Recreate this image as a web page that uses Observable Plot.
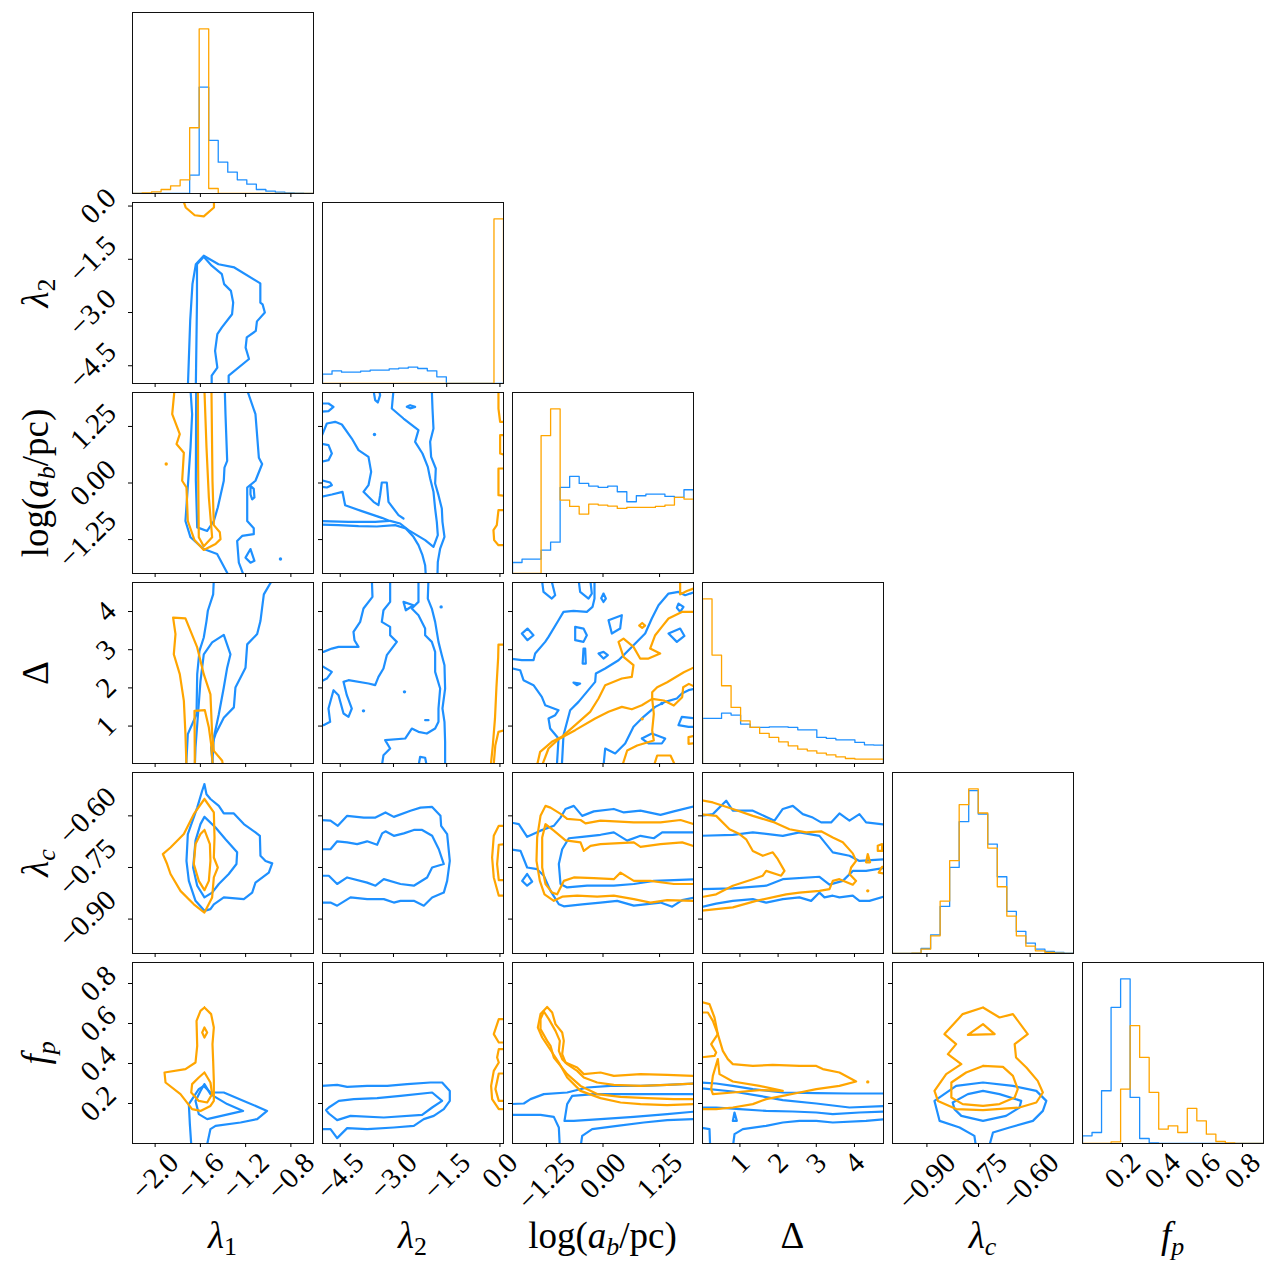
<!DOCTYPE html>
<html><head><meta charset="utf-8">
<script src="https://cdn.jsdelivr.net/npm/d3@7"></script>
<script src="https://cdn.jsdelivr.net/npm/@observablehq/plot@0.6"></script>
<style>
html,body{margin:0;padding:0;background:#fff;}
#fig{position:relative;width:1271px;height:1262px;font-family:'Liberation Serif',serif;}
.panel{position:absolute;}
.panel svg{overflow:visible;background:transparent;max-width:none;}
.xt,.yt{position:absolute;font-size:37px;white-space:nowrap;line-height:1;color:#000;}
.xt{transform:translate(-50%,-50%);}
.yt{transform:translate(-50%,-50%) rotate(-90deg);}
.xt sub,.yt sub{font-size:0.7em;vertical-align:-0.28em;line-height:0;}
</style></head><body><div id="fig"></div>
<script>
// ---------------- tick values and labels ----------------
const tickLambda1 = [-2.0, -1.6, -1.2, -0.8];
const tickLabelLambda1 = ["−2.0", "−1.6", "−1.2", "−0.8"];
const tickLambda2 = [-4.5, -3.0, -1.5, 0.0];
const tickLabelLambda2 = ["−4.5", "−3.0", "−1.5", "0.0"];
const tickLogab = [-1.25, 0.0, 1.25];
const tickLabelLogab = ["−1.25", "0.00", "1.25"];
const tickDelta = [1, 2, 3, 4];
const tickLabelDelta = ["1", "2", "3", "4"];
const tickLambdac = [-0.90, -0.75, -0.60];
const tickLabelLambdac = ["−0.90", "−0.75", "−0.60"];
const tickFp = [0.2, 0.4, 0.6, 0.8];
const tickLabelFp = ["0.2", "0.4", "0.6", "0.8"];

// axis ranges of each parameter
const rangeLambda1 = [-2.2, -0.6];
const rangeLambda2 = [-5.0, 0.1];
const rangeLogab = [-2.0, 2.0];
const rangeDelta = [0.02, 4.76];
const rangeLambdac = [-1.0, -0.474];
const rangeFp = [0.0, 0.905];

// ---------------- 1D histograms (19 bins across each range) ----------------
const histLambda1Blue = [0,0,0,0,0,0,55,319,159,94,64,41,28,12,7,4,2,1,0];
const histLambda1Orange = [0,2,5,12,23,41,197,493,15,0,0,0,0,0,0,0,0,0,0];
const histLambda2Blue = [28,38,34,34,37,40,40,44,46,49,45,38,20,0,0,0,0,0,0];
const histLambda2Orange = [0,0,0,0,0,0,0,0,0,0,0,0,0,0,0,0,0,0,493];
const histLogabBlue = [33,43,43,70,94,258,291,270,262,258,262,245,215,233,238,238,231,228,251];
const histLogabOrange = [0,0,0,413,493,220,201,178,208,205,202,195,198,198,198,201,205,228,223];
const histDeltaBlue = [135,135,151,145,118,108,108,110,110,108,101,101,78,75,71,71,63,56,55];
const histDeltaOrange = [493,325,233,168,128,108,90,78,65,53,43,38,31,26,20,15,13,13,13];
const histLambdacBlue = [0,0,1,15,56,141,258,395,488,418,328,230,126,66,31,13,6,3,1];
const histLambdacOrange = [0,0,1,13,53,157,278,446,493,421,316,200,112,53,22,8,3,1,0];
const histFpBlue = [23,33,158,408,493,138,15,2,0,0,0,0,0,0,0,0,0,0,0];
const histFpOrange = [0,0,0,5,163,353,258,153,43,53,33,105,68,28,6,2,0,0,0];

// ---------------- 2D contour lines (x, y in data units); one-point entries are tiny islands ----------------
// row λ2, column λ1
const c10Blue = [
 [[-1.71,-5.05],[-1.69,-3.23],[-1.67,-2.20],[-1.64,-1.64],[-1.57,-1.40],[-1.44,-1.64],[-1.30,-1.73],[-1.07,-2.18],[-1.07,-2.72],[-1.05,-2.77],[-1.03,-3.00],[-1.10,-3.25],[-1.11,-3.52],[-1.19,-3.70],[-1.20,-3.99],[-1.17,-4.31],[-1.35,-4.78],[-1.35,-5.05]],
 [[-1.64,-5.05],[-1.63,-2.67],[-1.63,-1.64],[-1.57,-1.43],[-1.50,-1.68],[-1.41,-1.92],[-1.39,-2.20],[-1.33,-2.39],[-1.31,-2.72],[-1.32,-3.05],[-1.41,-3.42],[-1.45,-3.61],[-1.47,-4.08],[-1.45,-4.55],[-1.50,-4.78],[-1.50,-5.05]]
];
const c10Orange = [
 [[-1.75,0.15],[-1.73,-0.04],[-1.65,-0.26],[-1.57,-0.29],[-1.48,-0.04],[-1.48,0.15]]
];
// row log(ab), column λ1
const c20Blue = [
 [[-1.687,2.05],[-1.673,1.52],[-1.687,0.79],[-1.732,-0.84],[-1.687,-1.20],[-1.57,-1.46],[-1.452,-1.57],[-1.349,-2.05]],
 [[-1.186,2.05],[-1.113,1.52],[-1.083,0.56],[-1.054,0.42],[-1.113,0.05],[-1.186,-0.10],[-1.186,-0.84],[-1.128,-1.00],[-1.128,-1.13],[-1.231,-1.17],[-1.275,-1.28],[-1.260,-1.76],[-1.216,-2.05]],
 [[-1.637,2.05],[-1.640,0.05],[-1.628,-0.98],[-1.540,-1.06],[-1.481,-0.84],[-1.446,-0.54],[-1.393,0.05],[-1.387,0.34],[-1.363,0.49],[-1.378,1.52],[-1.384,2.05]],
 [[-1.157,-0.06],[-1.128,-0.13],[-1.122,-0.32],[-1.142,-0.36],[-1.157,-0.25],[-1.157,-0.06]],
 [[-1.201,-1.65],[-1.157,-1.46],[-1.122,-1.72],[-1.157,-1.76],[-1.201,-1.65]],
 [[-0.892,-1.68]]
];
const c20Orange = [
 [[-1.829,2.05],[-1.849,1.52],[-1.782,1.08],[-1.811,0.86],[-1.746,0.67],[-1.761,0.05],[-1.723,-0.10],[-1.711,-0.84],[-1.652,-1.26],[-1.570,-1.48],[-1.466,-1.35],[-1.422,-1.24],[-1.428,-1.09],[-1.481,-0.93],[-1.493,0.05],[-1.502,2.05]],
 [[-1.622,2.05],[-1.620,0.42],[-1.614,-1.20],[-1.570,-1.40],[-1.496,-1.20],[-1.525,-0.32],[-1.546,0.79],[-1.564,2.05]],
 [[-1.902,0.42]]
];
// row Δ, column λ1
const c30Blue = [
 [[-1.726,-0.05],[-1.711,0.79],[-1.634,1.31],[-1.628,2.36],[-1.608,2.97],[-1.570,3.32],[-1.546,3.75],[-1.534,4.02],[-1.487,4.45],[-1.481,4.85]],
 [[-0.960,4.85],[-1.039,4.45],[-1.054,4.10],[-1.069,3.75],[-1.098,3.41],[-1.186,3.14],[-1.201,2.53],[-1.290,2.01],[-1.304,1.49],[-1.393,1.22],[-1.466,0.79],[-1.505,0.44],[-1.490,-0.05]],
 [[-1.649,-0.05],[-1.643,0.44],[-1.599,2.18],[-1.570,2.88],[-1.496,3.19],[-1.393,3.39],[-1.334,2.88],[-1.363,2.53],[-1.393,2.01],[-1.437,1.31],[-1.481,0.70],[-1.496,-0.05]]
];
const c30Orange = [
 [[-1.723,-0.05],[-1.732,0.79],[-1.746,1.66],[-1.782,2.36],[-1.835,2.88],[-1.820,3.41],[-1.841,3.84],[-1.732,3.82],[-1.628,3.06],[-1.570,2.36],[-1.511,1.83],[-1.496,0.79],[-1.481,0.35],[-1.407,0.09],[-1.399,-0.05]],
 [[-1.649,-0.05],[-1.652,1.40],[-1.561,1.42],[-1.525,0.96],[-1.505,0.53],[-1.490,-0.05]]
];
// row λc, column λ1
const c40Blue = [
 [[-1.564,-0.508],[-1.546,-0.537],[-1.511,-0.551],[-1.437,-0.571],[-1.393,-0.593],[-1.304,-0.593],[-1.216,-0.624],[-1.113,-0.648],[-1.074,-0.658],[-1.069,-0.716],[-1.024,-0.731],[-0.965,-0.738],[-0.995,-0.765],[-1.113,-0.794],[-1.142,-0.823],[-1.216,-0.842],[-1.393,-0.837],[-1.481,-0.857],[-1.511,-0.871],[-1.564,-0.876],[-1.643,-0.847],[-1.702,-0.789],[-1.723,-0.731],[-1.711,-0.653],[-1.628,-0.576],[-1.584,-0.527],[-1.564,-0.508]],
 [[-1.564,-0.603],[-1.466,-0.634],[-1.378,-0.668],[-1.275,-0.706],[-1.281,-0.740],[-1.349,-0.769],[-1.437,-0.798],[-1.496,-0.823],[-1.564,-0.837],[-1.628,-0.803],[-1.664,-0.750],[-1.643,-0.672],[-1.599,-0.624],[-1.564,-0.603]]
];
const c40Orange = [
 [[-1.564,-0.551],[-1.481,-0.590],[-1.475,-0.663],[-1.481,-0.721],[-1.446,-0.750],[-1.481,-0.779],[-1.496,-0.837],[-1.564,-0.881],[-1.658,-0.857],[-1.776,-0.818],[-1.864,-0.769],[-1.894,-0.740],[-1.932,-0.711],[-1.864,-0.692],[-1.746,-0.653],[-1.658,-0.595],[-1.564,-0.551]],
 [[-1.564,-0.641],[-1.516,-0.682],[-1.511,-0.731],[-1.525,-0.789],[-1.564,-0.816],[-1.614,-0.789],[-1.658,-0.740],[-1.643,-0.682],[-1.599,-0.653],[-1.564,-0.641]]
];
// row fp, column λ1
const c50Blue = [
 [[-1.679,-0.02],[-1.693,0.097],[-1.702,0.197],[-1.614,0.272],[-1.570,0.288],[-1.511,0.255],[-1.393,0.255],[-1.216,0.213],[-1.010,0.163],[-1.098,0.122],[-1.245,0.105],[-1.466,0.088],[-1.511,0.072],[-1.546,-0.02]],
 [[-1.564,0.297],[-1.511,0.247],[-1.363,0.197],[-1.222,0.163],[-1.540,0.122],[-1.614,0.147],[-1.643,0.213],[-1.599,0.263],[-1.564,0.297]]
];
const c50Orange = [
 [[-1.564,0.68],[-1.505,0.647],[-1.481,0.58],[-1.493,0.497],[-1.487,0.413],[-1.481,0.313],[-1.481,0.213],[-1.511,0.188],[-1.599,0.163],[-1.673,0.172],[-1.776,0.247],[-1.908,0.305],[-1.917,0.355],[-1.732,0.372],[-1.643,0.405],[-1.628,0.488],[-1.634,0.613],[-1.599,0.663],[-1.564,0.68]],
 [[-1.584,0.555],[-1.564,0.58],[-1.540,0.555],[-1.564,0.53],[-1.584,0.555]],
 [[-1.564,0.355],[-1.511,0.305],[-1.496,0.247],[-1.540,0.205],[-1.614,0.213],[-1.681,0.255],[-1.673,0.297],[-1.614,0.33],[-1.564,0.355]]
];
// row log(ab), column λ2
const c21Blue = [
 [[-5.05,-0.917],[-4.549,-0.932],[-3.986,-0.954],[-3.469,-0.961],[-2.953,-0.932],[-2.653,-1.006],[-2.437,-1.190],[-2.296,-1.374],[-2.183,-1.595],[-2.108,-1.816],[-2.089,-2.05]],
 [[-1.920,2.05],[-1.901,1.646],[-1.873,1.204],[-1.967,0.910],[-1.939,0.578],[-1.808,0.320],[-1.826,-0.011],[-1.732,-0.269],[-1.638,-0.564],[-1.620,-0.858],[-1.563,-1.190],[-1.685,-1.448],[-1.751,-1.742],[-1.761,-2.05]],
 [[-5.05,-0.843],[-4.268,-0.858],[-3.516,-0.858],[-3.122,-0.836],[-3.329,-0.770],[-3.892,-0.622],[-4.362,-0.490],[-4.437,-0.195],[-4.737,-0.254],[-5.05,-0.306]],
 [[-3.0,2.05],[-3.047,1.646],[-2.718,1.425],[-2.296,1.168],[-2.390,0.910],[-2.183,0.652],[-2.033,0.357],[-1.967,0.099],[-1.873,-0.195],[-1.826,-0.564],[-1.779,-0.858],[-1.751,-1.153],[-1.873,-1.411],[-2.108,-1.263],[-2.343,-1.153],[-2.577,-1.042],[-2.812,-0.895],[-3.094,-0.836]],
 [[-5.05,0.983],[-4.878,1.315],[-4.643,1.352],[-4.455,1.293],[-4.174,0.983],[-3.986,0.726],[-3.704,0.578],[-3.629,0.247],[-3.704,-0.048],[-3.845,-0.195],[-3.563,-0.416],[-3.423,-0.490],[-3.376,-0.269],[-3.329,0.011],[-3.188,0.011],[-3.141,-0.416],[-2.859,-0.711],[-2.718,-0.785]],
 [[-5.05,1.757],[-4.831,1.757],[-4.690,1.683],[-4.831,1.587],[-5.05,1.573]],
 [[-5.05,0.873],[-4.831,0.836],[-4.737,0.652],[-4.831,0.505],[-5.05,0.468]],
 [[-5.05,0.063],[-4.784,0.011],[-4.737,-0.048],[-4.878,-0.099],[-5.05,-0.085]],
 [[-2.624,1.683],[-2.531,1.72],[-2.390,1.683],[-2.531,1.65],[-2.624,1.683]],
 [[-3.563,2.05],[-3.516,1.831],[-3.441,1.779],[-3.376,1.941],[-3.404,2.05]],
 [[-3.535,1.072]]
];
const c21Orange = [
 [[0.15,1.352],[0.005,1.352],[-0.042,1.646],[-0.042,2.05]],
 [[0.15,1.057],[0.005,1.057],[0.005,0.652],[0.15,0.615]],
 [[0.15,0.320],[-0.042,0.320],[-0.042,-0.269],[0.15,-0.284]],
 [[0.15,-0.600],[-0.042,-0.600],[-0.089,-0.932],[-0.183,-1.042],[-0.164,-1.263],[-0.042,-1.374],[0.15,-1.374]]
];
// row Δ, column λ2
const c31Blue = [
 [[-3.610,4.85],[-3.592,4.383],[-3.845,4.078],[-3.939,3.729],[-4.127,3.467],[-4.099,3.249],[-3.986,3.074],[-4.549,3.074],[-4.737,3.03],[-4.972,2.943],[-5.05,2.93]],
 [[-3.094,4.85],[-3.094,4.252],[-3.282,4.034],[-3.329,3.729],[-3.094,3.598],[-3.094,3.379],[-2.906,3.205],[-3.188,2.856],[-3.282,2.507],[-3.423,2.289],[-3.516,2.071],[-3.704,2.114],[-4.268,2.202],[-4.408,2.158],[-4.315,1.809],[-4.174,1.46],[-4.268,1.242],[-4.408,1.329],[-4.549,1.809],[-4.690,1.94],[-4.831,1.46],[-4.784,1.111],[-4.972,1.023],[-5.05,1.02]],
 [[-5.05,2.594],[-4.737,2.42],[-4.878,2.245],[-5.05,2.16]],
 [[-2.296,4.85],[-2.296,4.252],[-2.484,4.078],[-2.296,3.903],[-2.108,3.554],[-2.108,3.379],[-1.920,3.205],[-1.826,2.943],[-1.826,2.42],[-1.685,1.983],[-1.732,1.46],[-1.732,1.111],[-1.826,0.936],[-2.061,0.805],[-2.296,0.849],[-2.484,0.936],[-2.671,0.674],[-3.235,0.631],[-3.094,0.413],[-3.282,0.238],[-3.329,-0.05]],
 [[-2.014,4.85],[-2.033,4.339],[-1.920,4.078],[-1.826,3.729],[-1.732,3.205],[-1.638,2.856],[-1.563,2.594],[-1.545,1.983],[-1.620,1.46],[-1.563,1.111],[-1.545,0.587],[-1.545,-0.05]],
 [[-2.718,4.252],[-2.437,4.165],[-2.653,4.034],[-2.718,4.252]],
 [[-2.108,1.154],[-2.014,1.154]],
 [[-2.296,-0.05],[-2.249,0.195],[-2.108,0.17],[-2.061,-0.05]],
 [[-1.657,4.121]],
 [[-2.690,1.896]],
 [[-3.845,1.399]]
];
const c31Orange = [
 [[0.15,3.135],[-0.042,3.135],[-0.05,2.8],[-0.10,2.0],[-0.14,1.2],[-0.20,0.5],[-0.26,-0.05]],
 [[0.15,0.892],[-0.042,0.85],[-0.13,0.5],[-0.18,-0.05]]
];
// row Δ, column log(ab)
const c32Blue = [
 [[-2.05,2.769],[-1.794,2.725],[-1.536,2.725],[-1.499,2.90],[-1.278,3.205],[-1.204,3.336],[-0.983,3.772],[-0.873,3.99],[-0.652,4.017],[-0.357,3.99],[-0.232,4.121],[-0.188,4.339],[-0.188,4.85]],
 [[-2.05,2.524],[-1.831,2.463],[-1.757,2.202],[-1.536,2.071],[-1.352,1.765],[-1.278,1.547],[-0.983,1.416],[-1.057,1.285],[-1.204,1.198],[-1.168,0.936],[-0.983,0.674],[-1.020,-0.05]],
 [[-0.910,-0.05],[-0.873,0.762],[-0.726,1.416],[-0.541,1.634],[-0.357,1.896],[-0.173,2.158],[-0.158,2.376],[0.048,2.507],[0.343,2.725],[0.564,2.987],[0.932,3.423],[1.079,3.816],[1.227,4.165],[1.448,4.47],[1.668,4.514],[1.816,4.427],[1.926,4.47],[2.05,4.514]],
 [[0.011,-0.05],[0.048,0.413],[0.269,0.282],[0.490,0.544],[0.674,0.98],[0.895,1.242],[1.153,1.503],[1.374,1.634],[1.632,1.722],[1.742,1.852],[1.890,1.94],[2.05,1.983]],
 [[2.05,1.198],[1.742,1.242],[1.668,1.023],[1.890,0.98],[2.05,0.98]],
 [[0.858,0.674],[1.079,0.805],[1.374,0.674],[1.300,0.544],[1.006,0.544],[0.858,0.674]],
 [[-1.794,3.423],[-1.669,3.554],[-1.536,3.379],[-1.669,3.249],[-1.794,3.423]],
 [[-0.615,3.598],[-0.431,3.554],[-0.357,3.379],[-0.431,3.205],[-0.615,3.249],[-0.615,3.598]],
 [[-0.431,3.03],[-0.394,3.03],[-0.38,2.638],[-0.45,2.638],[-0.431,3.03]],
 [[0.011,4.47],[0.063,4.339],[0.011,4.25],[-0.04,4.35],[0.011,4.47]],
 [[-0.099,2.90],[0.011,2.943],[0.107,2.856],[0.011,2.769],[-0.099,2.90]],
 [[-0.652,2.14],[-0.505,2.114],[-0.578,2.071],[-0.652,2.14]],
 [[0.122,3.772],[0.416,3.903],[0.379,3.554],[0.195,3.423],[0.122,3.772]],
 [[1.448,3.423],[1.705,3.554],[1.80,3.36],[1.632,3.205],[1.448,3.423]],
 [[1.668,4.208],[1.779,4.121],[1.705,3.99],[1.632,4.1],[1.668,4.208]],
 [[-1.352,4.85],[-1.315,4.514],[-1.131,4.339],[-1.057,4.427],[-1.146,4.85]],
 [[-0.541,4.85],[-0.505,4.514],[-0.320,4.339],[-0.247,4.47],[-0.283,4.85]],
 [[1.30,1.591]]
];
const c32Orange = [
 [[-1.462,-0.05],[-1.389,0.325],[-1.131,0.587],[-0.910,0.718],[-0.615,1.023],[-0.284,1.373],[-0.099,1.722],[0.048,2.071],[0.416,2.245],[0.637,2.289],[0.674,2.594],[0.453,2.812],[0.343,3.205],[0.453,3.292],[0.674,3.074],[0.821,2.769],[1.006,2.769],[1.263,2.90],[1.042,3.03],[1.153,3.379],[1.300,3.598],[1.448,3.816],[1.742,3.99],[2.05,3.99]],
 [[-1.352,-0.05],[-1.204,0.413],[-0.983,0.657],[-0.615,0.893],[-0.173,1.198],[0.122,1.373],[0.416,1.503],[0.637,1.44],[0.858,1.547],[1.087,1.713],[1.344,1.669],[1.565,1.538],[1.750,1.756],[1.772,2.018],[1.897,2.105],[2.05,2.018]],
 [[2.05,2.559],[1.786,2.411],[1.418,2.149],[1.197,2.018],[1.087,1.887],[1.087,1.713],[1.123,1.32],[1.087,0.884],[1.123,0.622],[0.755,0.491],[0.534,0.36],[0.424,-0.05]],
 [[1.123,-0.05],[1.197,0.229],[1.492,0.229],[1.602,-0.05]],
 [[2.05,0.753],[1.890,0.709],[1.890,0.535],[2.05,0.552]],
 [[1.705,4.85],[1.705,4.449],[1.853,4.537],[2.05,4.624]],
 [[0.80,3.633],[0.866,3.70],[0.93,3.633],[0.866,3.57],[0.80,3.633]],
 [[0.866,1.189]]
];
// row λc, column λ2
const c41Blue = [
 [[-5.05,-0.612],[-4.775,-0.614],[-4.568,-0.629],[-4.305,-0.600],[-3.836,-0.605],[-3.507,-0.605],[-3.225,-0.590],[-2.991,-0.603],[-2.521,-0.585],[-2.239,-0.576],[-1.911,-0.574],[-1.676,-0.600],[-1.657,-0.629],[-1.488,-0.653],[-1.413,-0.731],[-1.488,-0.789],[-1.582,-0.823],[-1.911,-0.837],[-2.146,-0.861],[-2.427,-0.847],[-2.803,-0.847],[-2.991,-0.852],[-3.272,-0.842],[-3.742,-0.842],[-4.211,-0.837],[-4.587,-0.861],[-4.775,-0.852],[-5.05,-0.852]],
 [[-5.05,-0.697],[-4.775,-0.697],[-4.587,-0.674],[-4.305,-0.677],[-4.023,-0.682],[-3.742,-0.674],[-3.460,-0.684],[-3.319,-0.651],[-3.225,-0.645],[-2.991,-0.658],[-2.709,-0.651],[-2.427,-0.641],[-2.192,-0.641],[-1.911,-0.658],[-1.723,-0.697],[-1.582,-0.740],[-1.911,-0.75],[-2.052,-0.779],[-2.427,-0.803],[-2.803,-0.798],[-3.272,-0.784],[-3.507,-0.803],[-3.742,-0.794],[-4.305,-0.779],[-4.587,-0.798],[-4.822,-0.774],[-5.05,-0.774]]
];
const c41Orange = [
 [[0.15,-0.629],[-0.033,-0.629],[-0.174,-0.658],[-0.221,-0.721],[-0.174,-0.779],[-0.033,-0.832],[0.15,-0.832]],
 [[0.15,-0.682],[-0.033,-0.684],[-0.080,-0.740],[-0.033,-0.787],[0.15,-0.787]]
];
// row λc, column log(ab)
const c42Blue = [
 [[-2.05,-0.619],[-1.860,-0.624],[-1.676,-0.661],[-1.381,-0.643],[-1.087,-0.629],[-0.939,-0.605],[-0.829,-0.580],[-0.645,-0.571],[-0.460,-0.600],[-0.203,-0.587],[0.239,-0.580],[0.460,-0.590],[0.829,-0.585],[1.271,-0.597],[1.565,-0.587],[2.05,-0.571]],
 [[-2.05,-0.697],[-1.823,-0.702],[-1.676,-0.75],[-1.455,-0.755],[-1.308,-0.774],[-1.160,-0.818],[-0.976,-0.857],[-0.866,-0.863],[-0.460,-0.857],[-0.055,-0.852],[0.313,-0.847],[0.681,-0.861],[1.271,-0.852],[1.529,-0.864],[1.750,-0.845],[2.05,-0.837]],
 [[2.05,-0.648],[1.713,-0.648],[1.308,-0.648],[1.123,-0.665],[0.829,-0.658],[0.534,-0.672],[0.239,-0.648],[-0.055,-0.655],[-0.460,-0.661],[-0.755,-0.665],[-0.902,-0.697],[-0.976,-0.740],[-0.939,-0.798],[-0.792,-0.808],[-0.350,-0.803],[0.239,-0.803],[0.681,-0.798],[1.123,-0.789],[1.565,-0.787],[2.05,-0.784]],
 [[-1.786,-0.789],[-1.676,-0.769],[-1.565,-0.791],[-1.676,-0.803],[-1.786,-0.789]]
];
const c42Orange = [
 [[2.05,-0.626],[1.713,-0.612],[1.271,-0.619],[0.681,-0.619],[-0.055,-0.614],[-0.387,-0.622],[-0.497,-0.612],[-0.792,-0.609],[-0.902,-0.597],[-1.160,-0.576],[-1.271,-0.571],[-1.381,-0.600],[-1.455,-0.663],[-1.470,-0.731],[-1.396,-0.789],[-1.293,-0.828],[-1.087,-0.847],[-0.902,-0.835],[-0.571,-0.832],[-0.129,-0.835],[0.239,-0.832],[0.681,-0.842],[1.050,-0.852],[1.418,-0.845],[2.05,-0.847]],
 [[2.05,-0.690],[1.750,-0.677],[1.271,-0.682],[0.829,-0.690],[0.681,-0.677],[-0.055,-0.682],[-0.276,-0.687],[-0.424,-0.702],[-0.497,-0.677],[-0.829,-0.671],[-1.087,-0.643],[-1.271,-0.624],[-1.344,-0.663],[-1.344,-0.75],[-1.271,-0.798],[-1.123,-0.823],[-1.013,-0.828],[-0.866,-0.789],[-0.645,-0.779],[-0.203,-0.781],[0.239,-0.784],[0.387,-0.765],[0.681,-0.789],[1.050,-0.789],[1.565,-0.798],[2.05,-0.798]]
];
// row λc, column Δ
const c43Blue = [
 [[-0.05,-0.600],[0.291,-0.595],[0.640,-0.556],[0.814,-0.585],[1.338,-0.585],[1.905,-0.614],[2.123,-0.580],[2.385,-0.571],[2.647,-0.595],[2.908,-0.605],[3.126,-0.619],[3.388,-0.619],[3.606,-0.593],[3.868,-0.614],[4.130,-0.595],[4.304,-0.619],[4.85,-0.626]],
 [[-0.05,-0.866],[0.378,-0.855],[0.814,-0.847],[1.338,-0.842],[1.687,-0.852],[2.123,-0.842],[2.559,-0.837],[2.865,-0.847],[3.083,-0.823],[3.214,-0.837],[3.432,-0.832],[3.606,-0.837],[3.955,-0.832],[4.130,-0.847],[4.392,-0.847],[4.85,-0.832]],
 [[-0.05,-0.658],[0.814,-0.655],[1.338,-0.648],[2.123,-0.658],[2.559,-0.648],[3.083,-0.658],[3.257,-0.682],[3.432,-0.706],[3.868,-0.716],[4.130,-0.731],[4.85,-0.726]],
 [[-0.05,-0.813],[0.814,-0.811],[1.687,-0.803],[2.123,-0.784],[3.083,-0.777],[3.345,-0.800],[3.694,-0.789],[3.955,-0.760],[4.304,-0.760],[4.85,-0.75]]
];
const c43Orange = [
 [[-0.05,-0.554],[0.291,-0.561],[0.814,-0.580],[1.338,-0.600],[1.905,-0.619],[2.298,-0.639],[2.734,-0.648],[3.126,-0.645],[3.432,-0.663],[3.694,-0.677],[3.955,-0.709],[4.043,-0.731],[3.912,-0.75],[3.868,-0.769],[4.043,-0.789],[3.955,-0.800],[3.606,-0.784],[3.432,-0.789],[3.345,-0.813],[3.083,-0.818],[2.559,-0.823],[2.210,-0.828],[1.425,-0.847],[0.814,-0.866],[0.378,-0.871],[-0.05,-0.876]],
 [[-0.05,-0.595],[0.378,-0.600],[0.727,-0.639],[0.989,-0.653],[1.163,-0.668],[1.338,-0.702],[1.599,-0.716],[1.861,-0.706],[1.992,-0.726],[2.167,-0.760],[2.079,-0.774],[1.687,-0.760],[1.599,-0.774],[1.338,-0.784],[0.814,-0.803],[0.378,-0.828],[-0.05,-0.837]],
 [[4.610,-0.687],[4.723,-0.682],[4.723,-0.702],[4.610,-0.702],[4.610,-0.687]],
 [[4.348,-0.711],[4.409,-0.735],[4.304,-0.735],[4.348,-0.711]],
 [[4.85,-0.748],[4.723,-0.748],[4.636,-0.765],[4.85,-0.769]],
 [[4.348,-0.818]]
];
// row fp, column λ2
const c51Blue = [
 [[-5.05,0.288],[-4.587,0.293],[-4.305,0.283],[-3.742,0.288],[-3.178,0.288],[-2.615,0.297],[-1.958,0.305],[-1.629,0.305],[-1.413,0.263],[-1.413,0.213],[-1.582,0.172],[-1.864,0.138],[-2.146,0.122],[-2.427,0.088],[-2.991,0.08],[-3.742,0.072],[-4.305,0.077],[-4.587,0.027],[-4.775,0.072],[-5.05,0.072]],
 [[-4.90,0.167],[-4.822,0.18],[-4.540,0.213],[-4.117,0.222],[-3.460,0.227],[-2.803,0.238],[-1.911,0.255],[-1.629,0.213],[-1.911,0.18],[-2.192,0.143],[-3.272,0.13],[-4.211,0.138],[-4.587,0.117],[-4.822,0.150],[-4.90,0.167]]
];
const c51Orange = [
 [[0.15,0.622],[-0.033,0.622],[-0.174,0.547],[-0.033,0.505],[0.15,0.505]],
 [[0.15,0.472],[-0.033,0.472],[-0.080,0.43],[-0.033,0.405],[-0.174,0.363],[-0.249,0.288],[-0.221,0.222],[-0.033,0.172],[0.15,0.172]],
 [[0.15,0.35],[-0.033,0.35],[-0.127,0.272],[-0.033,0.213],[0.15,0.213]]
];
// row fp, column log(ab)
const c52Blue = [
 [[-2.05,0.197],[-1.750,0.20],[-1.602,0.222],[-1.308,0.247],[-0.792,0.255],[-0.350,0.28],[0.166,0.288],[0.829,0.288],[1.418,0.293],[2.05,0.30]],
 [[-2.05,0.143],[-1.381,0.143],[-1.087,0.133],[-0.976,0.08],[-0.954,-0.02]],
 [[2.05,0.247],[1.271,0.247],[0.534,0.247],[-0.203,0.247],[-0.681,0.238],[-0.792,0.197],[-0.851,0.113],[-0.645,0.113],[-0.055,0.122],[0.681,0.133],[1.418,0.147],[2.05,0.16]],
 [[-0.497,-0.02],[-0.460,0.038],[-0.239,0.072],[0.313,0.088],[0.902,0.105],[1.418,0.117],[2.05,0.122]]
];
const c52Orange = [
 [[2.05,0.338],[1.418,0.343],[0.829,0.347],[0.239,0.338],[-0.055,0.355],[-0.424,0.347],[-0.571,0.38],[-0.829,0.405],[-0.902,0.447],[-0.866,0.513],[-0.902,0.555],[-1.050,0.597],[-1.123,0.655],[-1.234,0.683],[-1.381,0.647],[-1.440,0.58],[-1.344,0.53],[-1.197,0.48],[-0.976,0.405],[-0.792,0.33],[-0.497,0.263],[-0.055,0.227],[0.387,0.205],[0.829,0.197],[1.418,0.192],[2.05,0.197]],
 [[2.05,0.30],[1.418,0.293],[0.829,0.288],[0.239,0.293],[-0.129,0.305],[-0.424,0.33],[-0.571,0.363],[-0.792,0.397],[-0.902,0.422],[-0.976,0.463],[-0.954,0.513],[-1.050,0.563],[-1.197,0.622],[-1.308,0.66],[-1.381,0.622],[-1.381,0.572],[-1.234,0.513],[-1.160,0.488],[-1.087,0.43],[-0.792,0.347],[-0.497,0.288],[-0.129,0.247],[0.387,0.233],[0.976,0.227],[1.565,0.222],[2.05,0.222]]
];
// row fp, column Δ
const c53Blue = [
 [[-0.05,0.305],[0.378,0.30],[0.814,0.288],[1.338,0.272],[2.123,0.255],[3.0,0.252],[3.868,0.25],[4.85,0.25]],
 [[-0.05,0.277],[0.814,0.26],[1.512,0.238],[2.123,0.217],[3.0,0.20],[3.868,0.18],[4.85,0.188]],
 [[4.85,0.16],[4.130,0.155],[3.432,0.147],[3.0,0.155],[2.385,0.16],[1.687,0.163],[0.989,0.172],[0.378,0.18],[-0.05,0.18]],
 [[4.85,0.122],[4.304,0.113],[3.432,0.105],[3.0,0.113],[2.559,0.113],[2.123,0.105],[1.687,0.088],[1.076,0.072],[0.858,0.047],[0.814,-0.02]],
 [[-0.05,0.08],[0.203,0.072],[0.221,-0.02]],
 [[0.858,0.155],[0.919,0.113],[0.814,0.113],[0.858,0.155]]
];
const c53Orange = [
 [[-0.05,0.71],[0.203,0.697],[0.334,0.63],[0.421,0.547],[0.552,0.463],[0.683,0.422],[0.814,0.397],[1.338,0.388],[1.861,0.393],[2.559,0.388],[3.0,0.388],[3.170,0.372],[3.606,0.355],[4.043,0.31],[3.606,0.288],[3.0,0.272],[2.559,0.255],[2.123,0.238],[1.687,0.222],[1.338,0.197],[0.814,0.18],[0.378,0.172],[-0.05,0.172]],
 [[-0.05,0.655],[0.160,0.655],[0.291,0.613],[0.421,0.547],[0.247,0.497],[0.378,0.455],[0.334,0.438],[-0.05,0.43]],
 [[0.421,0.422],[0.291,0.338],[0.247,0.272],[0.291,0.247],[0.814,0.255],[1.512,0.267],[2.123,0.263],[1.512,0.288],[0.814,0.31],[0.465,0.347],[0.421,0.422]],
 [[4.348,0.308]]
];
// row fp, column λc
const c54Blue = [
 [[-0.757,-0.02],[-0.762,0.038],[-0.805,0.08],[-0.863,0.113],[-0.878,0.213],[-0.815,0.288],[-0.737,0.305],[-0.650,0.288],[-0.582,0.263],[-0.553,0.213],[-0.563,0.163],[-0.592,0.113],[-0.660,0.08],[-0.708,0.055],[-0.720,-0.02]],
 [[-0.825,0.205],[-0.781,0.247],[-0.737,0.263],[-0.689,0.247],[-0.626,0.213],[-0.631,0.18],[-0.670,0.138],[-0.737,0.113],[-0.800,0.138],[-0.820,0.172],[-0.825,0.205]]
];
const c54Orange = [
 [[-0.737,0.68],[-0.689,0.63],[-0.650,0.647],[-0.607,0.547],[-0.645,0.497],[-0.641,0.43],[-0.611,0.38],[-0.578,0.313],[-0.563,0.255],[-0.582,0.205],[-0.631,0.18],[-0.737,0.167],[-0.815,0.172],[-0.868,0.213],[-0.878,0.263],[-0.844,0.347],[-0.800,0.397],[-0.839,0.447],[-0.815,0.497],[-0.849,0.547],[-0.796,0.647],[-0.737,0.68]],
 [[-0.781,0.543],[-0.737,0.597],[-0.703,0.547],[-0.781,0.543]],
 [[-0.737,0.388],[-0.679,0.383],[-0.650,0.338],[-0.636,0.272],[-0.645,0.23],[-0.689,0.197],[-0.737,0.188],[-0.796,0.197],[-0.829,0.23],[-0.829,0.305],[-0.786,0.355],[-0.737,0.388]]
];

// ---------------- assembly ----------------
const BLUE = "#1e90ff", ORANGE = "#ffa500";
const ranges = [rangeLambda1, rangeLambda2, rangeLogab, rangeDelta, rangeLambdac, rangeFp];
const ticks = [tickLambda1, tickLambda2, tickLogab, tickDelta, tickLambdac, tickFp];
const tickLabels = [tickLabelLambda1, tickLabelLambda2, tickLabelLogab, tickLabelDelta, tickLabelLambdac, tickLabelFp];
const histsBlue = [histLambda1Blue, histLambda2Blue, histLogabBlue, histDeltaBlue, histLambdacBlue, histFpBlue];
const histsOrange = [histLambda1Orange, histLambda2Orange, histLogabOrange, histDeltaOrange, histLambdacOrange, histFpOrange];
const contours = {
  "1,0": [c10Blue, c10Orange], "2,0": [c20Blue, c20Orange], "3,0": [c30Blue, c30Orange],
  "4,0": [c40Blue, c40Orange], "5,0": [c50Blue, c50Orange], "2,1": [c21Blue, c21Orange],
  "3,1": [c31Blue, c31Orange], "4,1": [c41Blue, c41Orange], "5,1": [c51Blue, c51Orange],
  "3,2": [c32Blue, c32Orange], "4,2": [c42Blue, c42Orange], "5,2": [c52Blue, c52Orange],
  "4,3": [c43Blue, c43Orange], "5,3": [c53Blue, c53Orange], "5,4": [c54Blue, c54Orange]
};
const titles = [
  "<i>λ</i><sub>1</sub>", "<i>λ</i><sub>2</sub>", "log(<i>a</i><sub><i>b</i></sub>/pc)",
  "Δ", "<i>λ</i><sub><i>c</i></sub>", "<i>f</i><sub><i>p</i></sub>"
];

const PANEL = 181, PITCH = 190, LEFT0 = 132, TOP0 = 12;
const TICK_FS = 29;
const fig = document.getElementById("fig");
const ctx = document.createElement("canvas").getContext("2d");
ctx.font = `${TICK_FS}px "Liberation Serif"`;
const halfBox = s => 0.3536 * (ctx.measureText(s).width + 0.72 * TICK_FS);

function lineRows(lines) {
  const rows = [];
  lines.forEach((ln, i) => { if (ln.length > 1) ln.forEach(p => rows.push({x: p[0], y: p[1], id: i})); });
  return rows;
}
function dotRows(lines) {
  return lines.filter(ln => ln.length === 1).map(ln => ({x: ln[0][0], y: ln[0][1]}));
}
function stepRows(counts, range) {
  const n = counts.length, [lo, hi] = range, edge = i => lo + (hi - lo) * i / n, rows = [{x: lo, y: 0}];
  counts.forEach((v, i) => { rows.push({x: edge(i), y: v}); rows.push({x: edge(i + 1), y: v}); });
  rows.push({x: hi, y: 0});
  return rows;
}

for (let r = 0; r < 6; r++) {
  for (let c = 0; c <= r; c++) {
    const ml = c === 0 ? 125 : 8, mr = 8, mt = 8, mb = r === 5 ? 100 : 8;
    const marks = [];
    let yDomain;
    if (r === c) {
      yDomain = [0, 1.1 * Math.max(...histsBlue[c], ...histsOrange[c])];
      marks.push(Plot.line(stepRows(histsBlue[c], ranges[c]), {x: "x", y: "y", stroke: BLUE, strokeWidth: 1.3, clip: true}));
      marks.push(Plot.line(stepRows(histsOrange[c], ranges[c]), {x: "x", y: "y", stroke: ORANGE, strokeWidth: 1.3, clip: true}));
    } else {
      yDomain = ranges[r];
      const [bl, or] = contours[`${r},${c}`];
      for (const [set, col] of [[bl, BLUE], [or, ORANGE]]) {
        marks.push(Plot.line(lineRows(set), {x: "x", y: "y", z: "id", stroke: col, strokeWidth: 2.2, strokeLinejoin: "round", clip: true}));
        marks.push(Plot.dot(dotRows(set), {x: "x", y: "y", r: 1.7, fill: col, stroke: "none", clip: true}));
      }
      marks.push(Plot.axisY({ticks: ticks[r], tickSize: 4, tickFormat: () => "", label: null, stroke: "#000"}));
    }
    marks.push(Plot.frame({stroke: "#111", strokeWidth: 1}));
    marks.push(Plot.axisX({ticks: ticks[c], tickSize: 4, tickFormat: () => "", label: null, stroke: "#000"}));
    if (r === 5) {
      ticks[c].forEach((t, i) => {
        const lab = tickLabels[c][i];
        marks.push(Plot.text([t], {x: d => d, frameAnchor: "bottom", text: () => lab, rotate: -45,
          textAnchor: "middle", lineAnchor: "middle", dy: 7 + halfBox(lab), fontSize: TICK_FS, fill: "#000"}));
      });
    }
    if (c === 0 && r > 0) {
      ticks[r].forEach((t, i) => {
        const lab = tickLabels[r][i];
        marks.push(Plot.text([t], {y: d => d, frameAnchor: "left", text: () => lab, rotate: -45,
          textAnchor: "middle", lineAnchor: "middle", dx: -(14 + halfBox(lab)), fontSize: TICK_FS, fill: "#000"}));
      });
    }
    const svg = Plot.plot({
      width: PANEL + ml + mr, height: PANEL + mt + mb,
      marginLeft: ml, marginRight: mr, marginTop: mt, marginBottom: mb,
      x: {domain: ranges[c], axis: null},
      y: {domain: yDomain, axis: null},
      style: {background: "transparent", overflow: "visible", fontFamily: "'Liberation Serif', serif", color: "#000"},
      marks
    });
    const div = document.createElement("div");
    div.className = "panel";
    div.style.left = (LEFT0 + PITCH * c - ml) + "px";
    div.style.top = (TOP0 + PITCH * r - mt) + "px";
    div.appendChild(svg);
    fig.appendChild(div);
  }
}
// axis titles
for (let c = 0; c < 6; c++) {
  const d = document.createElement("div");
  d.className = "xt"; d.innerHTML = titles[c];
  d.style.left = (LEFT0 + PITCH * c + PANEL / 2) + "px"; d.style.top = "1235px";
  fig.appendChild(d);
}
for (let r = 1; r < 6; r++) {
  const d = document.createElement("div");
  d.className = "yt"; d.innerHTML = titles[r];
  d.style.left = "35px"; d.style.top = (TOP0 + PITCH * r + PANEL / 2) + "px";
  fig.appendChild(d);
}
</script></body></html>
